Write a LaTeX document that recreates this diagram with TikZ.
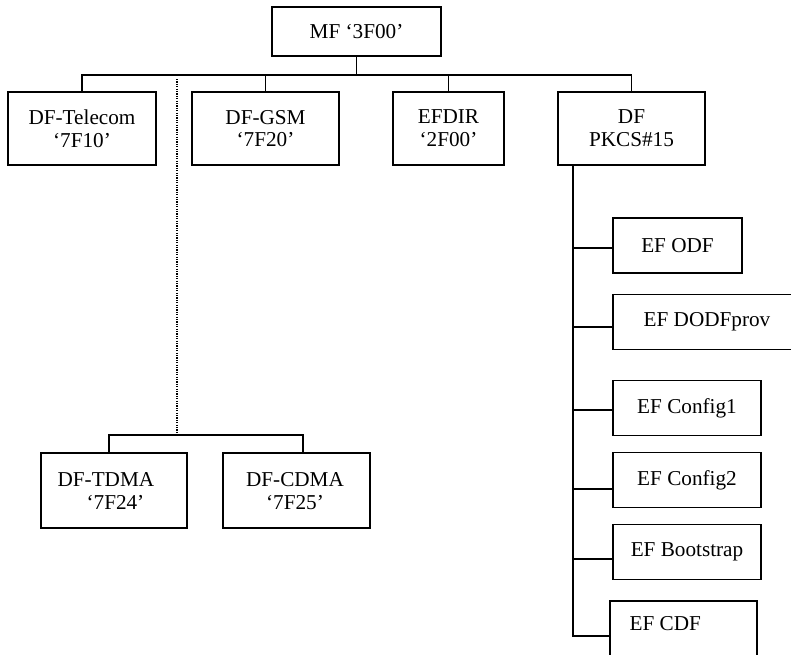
\documentclass[tikz,border=0pt]{standalone}
\usepackage{fontspec}
\setmainfont{Liberation Serif}
\usetikzlibrary{positioning}

\begin{document}
\begin{tikzpicture}[x=1pt, y=-1pt, line width=1.2pt,
  font=\fontsize{21.2}{22.8}\selectfont,
  dfbox/.style={draw, inner sep=0pt, align=center, minimum height=73pt},
  efbox/.style={draw, inner sep=0pt, minimum height=55pt},
  txt/.style={inner sep=0pt, align=left}]
  \clip (0,0) rectangle (791,654);
  \node[dfbox, minimum width=169pt, minimum height=49pt] (mf) at (356.5,31.5) {MF `3F00'};
  \node[dfbox, minimum width=148pt] (tel) at (82,128.5) {DF-Telecom\\`7F10'};
  \node[dfbox, minimum width=147pt] (gsm) at (265.5,128.5) {DF-GSM\\`7F20'};
  \node[dfbox, minimum width=111pt] (efdir) at (448.5,128.5) {EFDIR\\`2F00'};
  \node[dfbox, minimum width=147pt] (pkcs) at (631.5,128.5) {DF\\PKCS\#15};
  \node[dfbox, minimum width=146pt, minimum height=75pt] (tdma) at (114,490.5) {};
  \node[dfbox, minimum width=147pt, minimum height=75pt] (cdma) at (296.5,490.5) {};
  \node[txt, anchor=north west] (tdmatxt) at (57,472) {DF-TDMA\\\hspace*{29pt}`7F24'};
  \node[txt, anchor=north, align=center] (cdmatxt) at (295,472) {DF-CDMA\\`7F25'};
  \node[efbox, minimum width=129pt] (odf) at (677.5,245.5) {EF ODF};
  \node[efbox, minimum width=188pt] (dodf) at (707,322) {EF DODFprov};
  \node[efbox, minimum width=148pt] (cfg1) at (687,408) {EF Config1};
  \node[efbox, minimum width=148pt] (cfg2) at (687,480) {EF Config2};
  \node[efbox, minimum width=148pt] (boot) at (687,552) {EF Bootstrap};
  \node[efbox, minimum width=147pt] (cdf) at (683.5,628.5) {};
  \node[txt, anchor=north west] (cdftxt) at (629,616) {EF CDF};
  \coordinate (tb) at (0,75);
  \draw (mf.south) -- (mf.south |- tb);
  \draw (tel.north) -- (tel.north |- tb) -- (pkcs.north |- tb) -- (pkcs.north);
  \foreach \n in {gsm,efdir} \draw (\n.north) -- (\n.north |- tb);
  \coordinate (dtop) at (177,79);
  \coordinate (lbl) at (109,435);
  \coordinate (lbr) at (303,435);
  \draw[line width=1.3pt, dash pattern=on 1.2pt off 1.2pt] (dtop) -- (dtop |- lbl);
  \draw (lbl |- tdma.north) -- (lbl) -- (lbr) -- (lbr |- cdma.north);
  \coordinate (spend) at (573,637);
  \draw (spend |- pkcs.south) -- (spend);
  \foreach \n/\y in {odf/248,dodf/327,cfg1/410,cfg2/489,boot/559,cdf/636} {
    \coordinate (j\n) at (573,\y);
    \draw (j\n) -- (j\n -| \n.west);
  }
\end{tikzpicture}
\end{document}
